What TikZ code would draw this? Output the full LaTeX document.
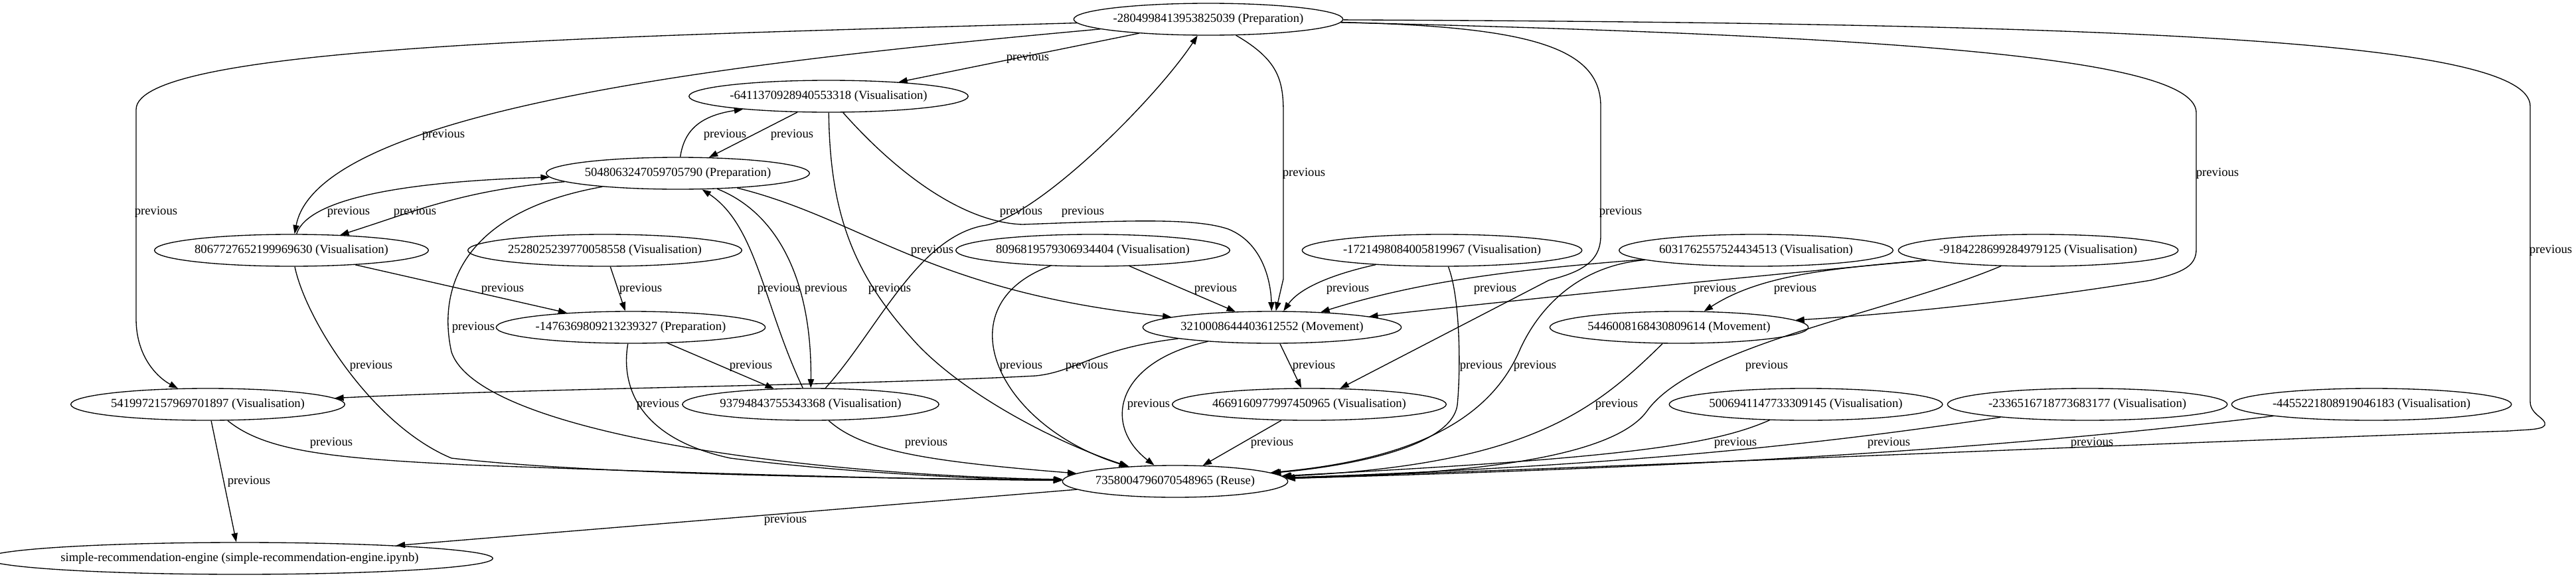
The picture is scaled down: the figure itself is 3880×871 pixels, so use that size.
\documentclass[tikz,border=0pt]{standalone}
\usepackage{fontspec}
\setmainfont{Liberation Serif}
\usetikzlibrary{arrows.meta,shapes.geometric}

\begin{document}
\begin{tikzpicture}[
  x=0.75pt, y=-0.75pt,
  ent/.style={ellipse, draw, line width=1pt, inner xsep=0pt, inner ysep=0pt,
              minimum height=36pt, font=\fontsize{14}{16}\selectfont},
  arr/.style={-{Triangle[length=10pt,width=7pt]}, line width=1pt},
  lbl/.style={font=\fontsize{14}{16}\selectfont, inner sep=0pt}
]
  \useasboundingbox (0,0) rectangle (3880,871);
  % Rows of cells
  \node[ent] (p1) at (1820,29) {-2804998413953825039 (Preparation)};
  \node[ent] (v1) at (1248,145) {-6411370928940553318 (Visualisation)};
  \node[ent] (p2) at (1021,261) {5048063247059705790 (Preparation)};
  \node[ent] (v2) at (439,377) {8067727652199969630 (Visualisation)};
  \node[ent] (v3) at (911,377) {2528025239770058558 (Visualisation)};
  \node[ent] (v4) at (1646,377) {8096819579306934404 (Visualisation)};
  \node[ent] (v5) at (2172,377) {-1721498084005819967 (Visualisation)};
  \node[ent] (v6) at (2645,377) {6031762557524434513 (Visualisation)};
  \node[ent] (v7) at (3070,377) {-9184228699284979125 (Visualisation)};
  \node[ent] (p3) at (950,493) {-1476369809213239327 (Preparation)};
  \node[ent] (m1) at (1916,493) {3210008644403612552 (Movement)};
  \node[ent] (m2) at (2529,493) {5446008168430809614 (Movement)};
  \node[ent] (v8) at (313,609) {5419972157969701897 (Visualisation)};
  \node[ent] (v9) at (1221,609) {93794843755343368 (Visualisation)};
  \node[ent] (v10) at (1972,609) {4669160977997450965 (Visualisation)};
  \node[ent] (v11) at (2720,609) {5006941147733309145 (Visualisation)};
  \node[ent] (v12) at (3144,609) {-2336516718773683177 (Visualisation)};
  \node[ent] (v13) at (3572,609) {-4455221808919046183 (Visualisation)};
  \node[ent] (ru) at (1770,725) {7358004796070548965 (Reuse)};
  \node[ent] (nb) at (361,841) {simple-recommendation-engine (simple-recommendation-engine.ipynb)};

  % Straight links
  \foreach \a/\b/\lx/\ly in {p1/v1/1548/87, v1/p2/1193/203, v2/p3/757/435,
      v3/p3/965/435, p3/v9/1131/551, v4/m1/1831/435, m1/v10/1979/551,
      v10/ru/1916/667, v8/nb/375/725, ru/nb/1183/783} {
    \draw[arr] (\a) -- (\b) node[lbl] at (\lx,\ly) {previous};
  }

  % Out of the first preparation
  \draw[arr] (p1) .. controls (1150,90) and (480,160) .. (v2) node[lbl] at (668,203) {previous};
  \draw[arr] (p1) .. controls (900,55) and (205,70) .. (205,165) -- (205,480)
    .. controls (205,540) and (240,570) .. (v8) node[lbl] at (235,319) {previous};
  \draw[arr] (p1) .. controls (1925,90) and (1933,120) .. (1933,170) -- (1933,420) -- (m1)
    node[lbl] at (1964,261) {previous};
  \draw[arr] (p1) .. controls (2300,40) and (2411,70) .. (2411,160) -- (2411,355)
    .. controls (2411,395) and (2380,410) .. (2333,422) -- (v10) node[lbl] at (2441,319) {previous};
  \draw[arr] (p1) .. controls (2900,55) and (3308,90) .. (3308,170) -- (3308,375)
    .. controls (3308,400) and (3290,410) .. (3240,422)
    .. controls (3100,445) and (2900,470) .. (m2) node[lbl] at (3340,261) {previous};
  \draw[arr] (p1) .. controls (3200,35) and (3811,60) .. (3811,160) -- (3811,605)
    .. controls (3811,625) and (3836,630) .. (3833,640)
    .. controls (3830,648) and (3800,647) .. (3780,649)
    .. controls (3300,665) and (2400,705) .. (ru) node[lbl] at (3842,377) {previous};

  % Around the second preparation
  \draw[arr] (v1) .. controls (1350,260) and (1450,335) .. (1540,338)
    .. controls (1700,332) and (1800,328) .. (1850,345)
    .. controls (1900,365) and (1914,420) .. (m1) node[lbl] at (1538,319) {previous};
  \draw[arr] (v1) .. controls (1250,330) and (1290,420) .. (1383,520)
    .. controls (1460,600) and (1600,670) .. (ru) node[lbl] at (1340,435) {previous};
  \draw[arr] (p2) .. controls (1030,200) and (1050,175) .. (v1) node[lbl] at (1092,203) {previous};
  \draw[arr] (p2) .. controls (700,285) and (620,320) .. (v2) node[lbl] at (625,319) {previous};
  \draw[arr] (v2) .. controls (460,310) and (560,275) .. (p2) node[lbl] at (525,319) {previous};
  \draw[arr] (p2) .. controls (1170,320) and (1223,420) .. (v9) node[lbl] at (1244,435) {previous};
  \draw[arr] (v9) .. controls (1150,460) and (1140,340) .. (p2) node[lbl] at (1173,435) {previous};
  \draw[arr] (p2) .. controls (1300,330) and (1400,440) .. (m1) node[lbl] at (1404,377) {previous};
  \draw[arr] (p2) .. controls (690,320) and (660,440) .. (680,530)
    .. controls (720,650) and (1200,715) .. (ru) node[lbl] at (713,493) {previous};

  % Into the reuse cell from the left
  \draw[arr] (v2) .. controls (460,480) and (560,640) .. (680,690)
    .. controls (900,715) and (1300,720) .. (ru) node[lbl] at (559,551) {previous};
  \draw[arr] (p3) .. controls (935,580) and (960,660) .. (1100,690)
    .. controls (1300,715) and (1500,722) .. (ru) node[lbl] at (991,609) {previous};
  \draw[arr] (v8) .. controls (400,680) and (500,690) .. (700,700)
    .. controls (1100,715) and (1400,722) .. (ru) node[lbl] at (499,667) {previous};
  \draw[arr] (v9) .. controls (1300,680) and (1400,695) .. (ru) node[lbl] at (1395,667) {previous};
  \draw[arr] (v9) .. controls (1320,500) and (1380,360) .. (1480,340)
    .. controls (1560,330) and (1740,150) .. (p1) node[lbl] at (1631,319) {previous};

  % Middle row
  \draw[arr] (v4) .. controls (1420,460) and (1500,640) .. (ru) node[lbl] at (1538,551) {previous};
  \draw[arr] (v5) .. controls (2020,410) and (1960,430) .. (m1) node[lbl] at (2030,435) {previous};
  \draw[arr] (v5) .. controls (2200,450) and (2200,560) .. (2195,610)
    .. controls (2185,680) and (2000,705) .. (ru) node[lbl] at (2231,551) {previous};
  \draw[arr] (v6) .. controls (2300,405) and (2150,420) .. (m1) node[lbl] at (2252,435) {previous};
  \draw[arr] (v6) .. controls (2380,400) and (2320,460) .. (2290,525)
    .. controls (2250,620) and (2150,690) .. (ru) node[lbl] at (2312,551) {previous};
  \draw[arr] (v7) .. controls (2700,410) and (2300,450) .. (m1) node[lbl] at (2583,435) {previous};
  \draw[arr] (v7) .. controls (2750,405) and (2650,415) .. (m2) node[lbl] at (2704,435) {previous};
  \draw[arr] (v7) .. controls (2850,470) and (2550,520) .. (2480,620)
    .. controls (2420,700) and (2150,715) .. (ru) node[lbl] at (2661,551) {previous};

  % Out of the movements
  \draw[arr] (m1) .. controls (1650,525) and (1620,560) .. (1560,566)
    .. controls (1300,580) and (800,585) .. (v8) node[lbl] at (1637,551) {previous};
  \draw[arr] (m1) .. controls (1680,545) and (1660,640) .. (ru) node[lbl] at (1730,609) {previous};
  \draw[arr] (m2) .. controls (2400,620) and (2300,700) .. (ru) node[lbl] at (2435,609) {previous};

  % Bottom row into the reuse cell
  \draw[arr] (v11) .. controls (2580,670) and (2450,690) .. (ru) node[lbl] at (2614,667) {previous};
  \draw[arr] (v12) .. controls (2800,660) and (2500,700) .. (ru) node[lbl] at (2845,667) {previous};
  \draw[arr] (v13) .. controls (3100,665) and (2700,700) .. (ru) node[lbl] at (3151,667) {previous};
\end{tikzpicture}
\end{document}
